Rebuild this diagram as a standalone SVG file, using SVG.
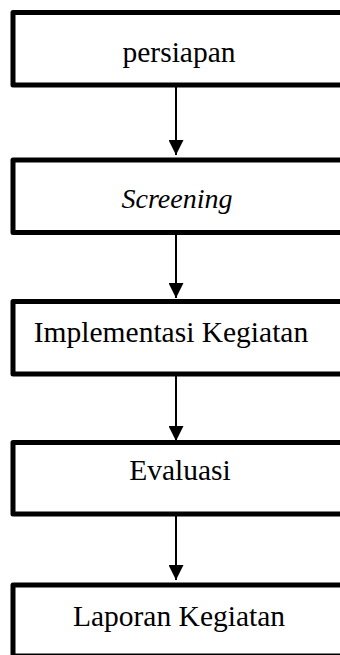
<svg xmlns="http://www.w3.org/2000/svg" width="340" height="655" viewBox="0 0 340 655">
<style>
.box{fill:#fff;stroke:#000;stroke-width:5;stroke-linejoin:round}
.t{font-family:"Liberation Serif","Times New Roman",serif;font-size:29.5px;fill:#000;text-anchor:middle}
.it{font-style:italic;font-size:28px}
.ln{stroke:#000;stroke-width:2;fill:none}
</style>
<defs>
<marker id="ah" viewBox="0 0 15 15" refX="15" refY="7.5" markerWidth="15" markerHeight="15" markerUnits="userSpaceOnUse" orient="auto">
<path d="M0,0 L15,7.5 L0,15 Z" fill="#000"/>
</marker>
</defs>
<rect width="340" height="655" fill="#fff"/>
<g id="n1"><rect class="box" x="13" y="12.5" width="400" height="72.5"/><text class="t" x="179" y="62">persiapan</text></g>
<g id="n2"><rect class="box" x="13" y="160" width="400" height="72.5"/><text class="t it" x="177" y="207.5">Screening</text></g>
<g id="n3"><rect class="box" x="13" y="301.5" width="400" height="72.5"/><text class="t" x="171" y="342">Implementasi Kegiatan</text></g>
<g id="n4"><rect class="box" x="13" y="442.5" width="400" height="71.5"/><text class="t" x="180" y="480">Evaluasi</text></g>
<g id="n5"><rect class="box" x="13" y="585" width="400" height="71"/><text class="t" x="179" y="626">Laporan Kegiatan</text></g>
<g id="connectors">
<line class="ln" x1="176" y1="87" x2="176" y2="155" marker-end="url(#ah)"/>
<line class="ln" x1="176" y1="235" x2="176" y2="298" marker-end="url(#ah)"/>
<line class="ln" x1="176" y1="376" x2="176" y2="441" marker-end="url(#ah)"/>
<line class="ln" x1="176" y1="516" x2="176" y2="580" marker-end="url(#ah)"/>
</g>
</svg>
